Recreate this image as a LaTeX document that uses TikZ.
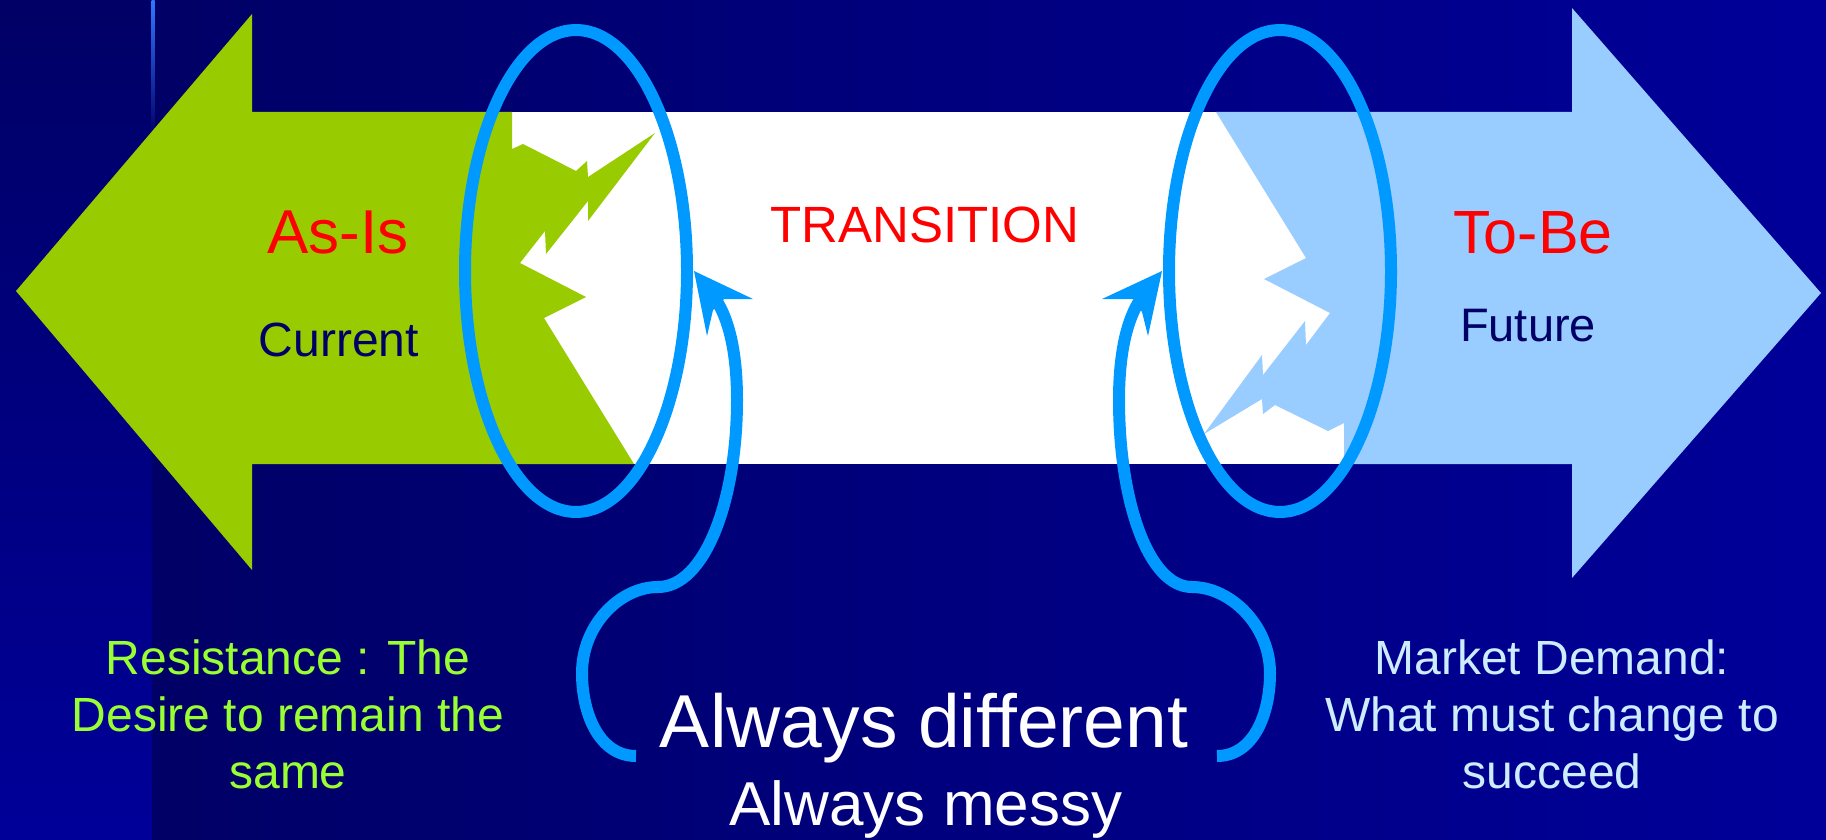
\documentclass[tikz,border=0pt]{standalone}
\usepackage{fontspec}
\setmainfont{Liberation Sans}
\usepackage{tikz}
\usetikzlibrary{calc}
\usepackage{xcolor}

\definecolor{navy}{RGB}{0,0,102}
\definecolor{deepnavy}{RGB}{0,0,153}
\definecolor{asisgreen}{RGB}{153,204,0}
\definecolor{tobeblue}{RGB}{153,204,255}
\definecolor{ringblue}{RGB}{0,153,255}
\definecolor{resistgreen}{RGB}{153,255,51}
\definecolor{marketblue}{RGB}{204,236,255}
\definecolor{stripline}{RGB}{51,119,255}

\begin{document}
\begin{tikzpicture}[x=1pt,y=-1pt,
		ring/.style={draw=ringblue,line width=12pt},
		hook/.style={draw=ringblue,line width=12pt,line cap=butt},
		word/.style={inner sep=0pt,anchor=base}]
		% Background
		\useasboundingbox (0,0) rectangle (1826,840);
		\shade[left color=navy,right color=deepnavy] (152,0) rectangle (1826,840);
		\shade[top color=navy,bottom color=deepnavy] (0,0) rectangle (152,840);
		\shade[top color=stripline,bottom color=navy] (151.5,0) rectangle (154.5,135);
		
		% Transition band
		\fill[white] (512,112) rectangle (1344,464);
		
		% As-Is arrow with its torn edge
		\fill[asisgreen] (16,291) -- (252,14) -- (252,112) -- (512,112) -- (512,149)
			-- (523,144) -- (576,171) -- (587,161) -- (588,177) -- (655,133)
			-- (588,221) -- (588,201) -- (546,254) -- (545,231) -- (520,263)
			-- (586,297) -- (544,318) -- (634,464) -- (252,464) -- (252,570) -- cycle;
		
		% To-Be arrow with its torn edge
		\fill[tobeblue] (1216,112) -- (1306,258) -- (1264,279) -- (1330,313)
			-- (1306,345) -- (1305,321) -- (1263,375) -- (1262,355) -- (1204,434)
			-- (1262,399) -- (1263,414) -- (1275,405) -- (1328,431) -- (1344,423)
			-- (1344,464) -- (1572,464) -- (1572,578) -- (1821,293) -- (1572,8)
			-- (1572,112) -- cycle;
		
		% Labels on the arrows
		\node[word,text=red,font=\fontsize{62}{62}\selectfont] (asis) at (338,253) {As-Is};
		\node[word,text=navy,font=\fontsize{48}{48}\selectfont] (current) at (339,356) {Current};
		\node[word,text=red,font=\fontsize{51}{51}\selectfont] (transition) at (925,242) {TRANSITION};
		\node[word,text=red,font=\fontsize{61}{61}\selectfont] (tobe) at (1533,253) {To-Be};
		\node[word,text=navy,font=\fontsize{47}{47}\selectfont] (future) at (1528,341) {Future};
		
		% Texts below (base = last line)
		\node[word,text=resistgreen,align=center,font=\fontsize{48}{57}\selectfont] (resist)
			at (288,788) {Resistance : The\\Desire to remain the\\same};
		\node[word,text=marketblue,align=center,font=\fontsize{48}{57}\selectfont] (market)
			at (1552,788) {Market Demand:\\What must change to\\succeed};
		\node[word,text=white,font=\fontsize{75}{75}\selectfont] (differ) at (924,747) {Always different};
		\node[word,text=white,font=\fontsize{62}{62}\selectfont] (messy) at (926,825) {Always messy};
		
		% Rings round the torn edges
		\foreach \cx in {576,1280}
			\draw[ring] (\cx,271) ellipse (111 and 241);
		
		% Hooked arrows up into the band
		\draw[hook] (636,756) .. controls (600,756) and (582,715) .. (582,673)
			.. controls (582,625) and (620,587) .. (658,587)
			.. controls (705,587) and (737,500) .. (737,400)
			.. controls (737,350) and (728,318) .. (716,300);
		\fill[ringblue] (694,271) -- (753,299) -- (724,299) -- (713,310) -- (707,336) -- cycle;
		
		\draw[hook] (1217,756) .. controls (1253,756) and (1270,715) .. (1270,673)
			.. controls (1270,625) and (1230,587) .. (1192,587)
			.. controls (1148,587) and (1119,500) .. (1119,400)
			.. controls (1119,350) and (1128,318) .. (1140,300);
		\fill[ringblue] (1162,271) -- (1102,299) -- (1133,299) -- (1142,312) -- (1148,336) -- cycle;
	\end{tikzpicture}
\end{document}
